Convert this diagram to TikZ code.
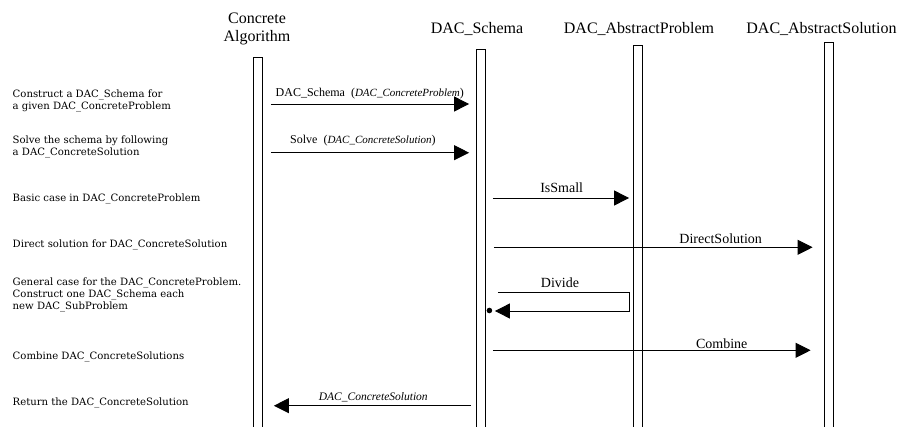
\documentclass[tikz,border=0pt]{standalone}
\usepackage{fontspec}
\setmainfont{Liberation Serif}
\newfontfamily\notefont{DejaVu Serif}
\usetikzlibrary{arrows.meta,calc}
\begin{document}
\begin{tikzpicture}[x=1pt,y=-1pt,
  bar/.style={draw, line width=0.8pt, minimum width=9pt, minimum height=390pt, inner sep=0pt, anchor=north},
  head/.style={font=\fontsize{16}{18}\selectfont, align=center, anchor=base, inner sep=0pt},
  note/.style={font=\notefont\fontsize{10.1}{11.7}\selectfont, align=left, anchor=base west, inner sep=0pt},
  lbl/.style={font=\fontsize{14}{16}\selectfont, anchor=base, inner sep=0pt},
  call/.style={font=\fontsize{12}{13}\selectfont, anchor=base west, inner sep=0pt},
  arg/.style={font=\fontsize{11}{12}\selectfont\itshape},
  msg/.style={line width=0.9pt, -{Triangle[length=15pt,width=15pt]}},
]
\useasboundingbox (0,0) rectangle (910,426);

% lifelines
\node[bar] (ca)  at (258,57) {};
\node[bar] (sch) at (481,49) {};
\node[bar] (ap)  at (638,45) {};
\node[bar] (as)  at (828.5,42) {};

% headers
\node[head] (hca)  at (257,41) {Concrete\\Algorithm};
\node[head] (hsch) at (477,33) {DAC\_Schema};
\node[head] (hap)  at (639,33) {DAC\_AbstractProblem};
\node[head] (has)  at (821.5,33) {DAC\_AbstractSolution};

% notes (anchor = baseline of last line)
\node[note] (n1) at (12.5,109.5) {Construct a DAC\_Schema for\\a given DAC\_ConcreteProblem};
\node[note] (n2) at (12.5,155) {Solve the schema by following\\a DAC\_ConcreteSolution};
\node[note] (n3) at (12.5,201) {Basic case in DAC\_ConcreteProblem};
\node[note] (n4) at (12.5,247) {Direct solution for DAC\_ConcreteSolution};
\node[note] (n5) at (12.5,309) {General case for the DAC\_ConcreteProblem.\\Construct one DAC\_Schema each\\new DAC\_SubProblem};
\node[note] (n6) at (12.5,359) {Combine DAC\_ConcreteSolutions};
\node[note] (n7) at (12.5,405) {Return the DAC\_ConcreteSolution};

% 1: constructor
\draw[msg] ($(ca.east |- 0,104)+(8,0)$) -- ($(sch.west |- 0,104)+(-7,0)$);
\node[call] (l1) at (275.5,96) {DAC\_Schema\hspace{0.5em}(\textnormal{\fontsize{11}{12}\selectfont\itshape DAC\_ConcreteProblem})};

% 2: solve
\draw[msg] ($(ca.east |- 0,152.7)+(8,0)$) -- ($(sch.west |- 0,152.7)+(-7,0)$);
\node[call] (l2) at (290,143.5) {Solve\hspace{0.5em}(\textnormal{\fontsize{11}{12}\selectfont\itshape DAC\_ConcreteSolution})};

% 3: IsSmall
\draw[msg] ($(sch.east |- 0,198)+(7,0)$) -- ($(ap.west |- 0,198)+(-4,0)$);
\node[lbl] (l3) at (561.7,192) {IsSmall};

% 4: DirectSolution
\draw[msg] ($(sch.east |- 0,247.3)+(8,0)$) -- ($(as.west |- 0,247.3)+(-11,0)$);
\node[lbl] (l4) at (720.7,243.3) {DirectSolution};

% 5: Divide (self message)
\coordinate (d1) at ($(sch.east |- 0,292.5)+(12,0)$);
\coordinate (d2) at ($(ap.west |- 0,292.5)+(-4,0)$);
\coordinate (d3) at ($(ap.west |- 0,311)+(-4,0)$);
\coordinate (d4) at ($(sch.east |- 0,311)+(9,0)$);
\draw[msg] (d1) -- (d2) -- (d3) -- (d4);
\fill ($(sch.east |- 0,310.5)+(3.5,0)$) circle (2.8pt);
\node[lbl] (l5) at (560,287) {Divide};

% 6: Combine
\draw[msg] ($(sch.east |- 0,350.3)+(7,0)$) -- ($(as.west |- 0,350.3)+(-13,0)$);
\node[lbl] (l6) at (721.7,348) {Combine};

% 7: return
\draw[msg] ($(sch.west |- 0,405.7)+(-5,0)$) -- ($(ca.east |- 0,405.7)+(11,0)$);
\node[call, anchor=base] (l7) at (373.3,400) {\fontsize{11.5}{12}\selectfont\itshape DAC\_ConcreteSolution};
\end{tikzpicture}
\end{document}
